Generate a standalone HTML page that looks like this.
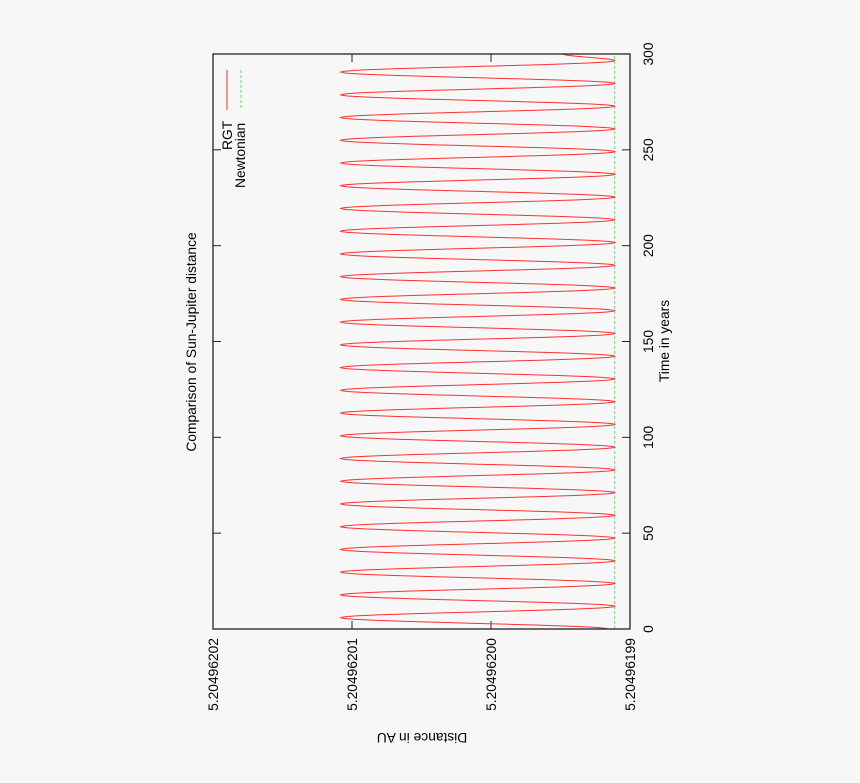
<!DOCTYPE html>
<html><head><meta charset="utf-8"><style>
html,body{margin:0;padding:0;background:#f7f7f7;}
svg{display:block;font-family:"Liberation Sans",Helvetica,sans-serif;}
</style></head><body>
<svg id="chart" width="860" height="783" viewBox="0 0 860 783" xmlns="http://www.w3.org/2000/svg">
<rect width="860" height="783" fill="#f7f7f7"/>
<defs><clipPath id="pc"><rect x="213" y="54" width="417" height="575"/></clipPath></defs>
<g id="ticks"></g>
<g id="series" clip-path="url(#pc)"></g>
<rect x="213" y="54" width="417" height="575" fill="none" stroke="#222" stroke-width="1.3"/>
<text transform="translate(196,342) rotate(-90)" text-anchor="middle" font-size="13.8">Comparison of Sun-Jupiter distance</text>
<text transform="translate(669,341) rotate(-90)" text-anchor="middle" font-size="13.8">Time in years</text>
<text transform="translate(422,733) rotate(180)" text-anchor="middle" font-size="13.8">Distance in AU</text>
<g>
<text transform="translate(232,150) rotate(-90)" font-size="13.8">RGT</text>
<line x1="227" y1="70" x2="227" y2="110" stroke="#ff3030" stroke-width="1"/>
<text transform="translate(245,188) rotate(-90)" font-size="13.8">Newtonian</text>
<line x1="241" y1="70" x2="241" y2="110" stroke="#60e060" stroke-width="1" stroke-dasharray="3,2"/>
</g>
</svg>
<script>
const timeTicks = [0, 50, 100, 150, 200, 250, 300];
const distTicks = [5.20496202, 5.20496201, 5.20496200, 5.20496199];
const distTickLabels = ["5.20496202", "5.20496201", "5.20496200", "5.20496199"];
const rgtTimes = [0, 5.93, 11.86, 17.79, 23.72, 29.65, 35.58, 41.51, 47.44, 53.37, 59.30, 65.23, 71.16, 77.09, 83.02, 88.95, 94.88, 100.81, 106.74, 112.67, 118.60, 124.53, 130.46, 136.39, 142.32, 148.25, 154.18, 160.11, 166.04, 171.97, 177.90, 183.83, 189.76, 195.69, 201.62, 207.55, 213.48, 219.41, 225.34, 231.27, 237.20, 243.13, 249.06, 254.99, 260.92, 266.85, 272.78, 278.71, 284.64, 290.57, 296.50, 300];
const rgtValues = [5.2049619916, 5.2049620108, 5.2049619911, 5.2049620108, 5.2049619911, 5.2049620108, 5.2049619911, 5.2049620108, 5.2049619911, 5.2049620108, 5.2049619911, 5.2049620108, 5.2049619911, 5.2049620108, 5.2049619911, 5.2049620108, 5.2049619911, 5.2049620108, 5.2049619911, 5.2049620108, 5.2049619911, 5.2049620108, 5.2049619911, 5.2049620108, 5.2049619911, 5.2049620108, 5.2049619911, 5.2049620108, 5.2049619911, 5.2049620108, 5.2049619911, 5.2049620108, 5.2049619911, 5.2049620108, 5.2049619911, 5.2049620108, 5.2049619911, 5.2049620108, 5.2049619911, 5.2049620108, 5.2049619911, 5.2049620108, 5.2049619911, 5.2049620108, 5.2049619911, 5.2049620108, 5.2049619911, 5.2049620108, 5.2049619911, 5.2049620108, 5.2049619911, 5.2049619948];
const newtTimes = [0, 300];
const newtValues = [5.2049619911, 5.2049619911];

const NS = "http://www.w3.org/2000/svg";
const L=213, R=630, T=54, B=629;
const xScale = v => L + (5.20496202 - v) / (5.20496202 - 5.20496199) * (R - L);
const yScale = t => B - t / 300 * (B - T);

const tg = document.getElementById('ticks');
function mk(tag, attrs, parent){ const e=document.createElementNS(NS,tag); for(const k in attrs) e.setAttribute(k,attrs[k]); parent.appendChild(e); return e; }

timeTicks.forEach(t=>{
  const y=yScale(t);
  if(t>0 && t<300){
    const a=mk('line',{x1:L,y1:y,x2:L+8,y2:y,stroke:'#222'},tg);
    
    
    const b=mk('line',{x1:R-8,y1:y,x2:R,y2:y,stroke:'#222'},tg);
    
    
  }
  const tx=mk('text',{transform:`translate(${653},${y}) rotate(-90)`,'text-anchor':'middle','font-size':'13.8'},tg);
  tx.textContent=String(t);
  
  
});
distTicks.forEach((v,i)=>{
  const x=xScale(v);
  if(i>0 && i<distTicks.length-1){
    const a=mk('line',{x1:x,y1:B,x2:x,y2:B-8,stroke:'#222'},tg);
    
    
    const b=mk('line',{x1:x,y1:T,x2:x,y2:T+8,stroke:'#222'},tg);
    
    
  }
  const tx=mk('text',{transform:`translate(${x+5},${638}) rotate(-90)`,'text-anchor':'end','font-size':'13.8'},tg);
  tx.textContent=distTickLabels[i];
  
  
});

const sg=document.getElementById('series');
let nd='';
newtTimes.forEach((t,i)=>{ nd+=(i?'L':'M')+xScale(newtValues[i]).toFixed(2)+','+yScale(t).toFixed(2); });
const np=mk('path',{d:nd,fill:'none',stroke:'#60e060','stroke-width':1,'stroke-dasharray':'3,2'},sg);


let d='';
for(let i=0;i<rgtTimes.length-1;i++){
  const t0=rgtTimes[i], t1=rgtTimes[i+1], v0=rgtValues[i], v1=rgtValues[i+1];
  for(let s=0;s<=20;s++){
    const f=s/20, t=t0+(t1-t0)*f, v=v0+(v1-v0)*(1-Math.cos(Math.PI*f))/2;
    d+=(d?'L':'M')+xScale(v).toFixed(2)+','+yScale(t).toFixed(2);
  }
}
const rp=mk('path',{d:d,fill:'none',stroke:'#ff3030','stroke-width':1},sg);


</script>
</body></html>
